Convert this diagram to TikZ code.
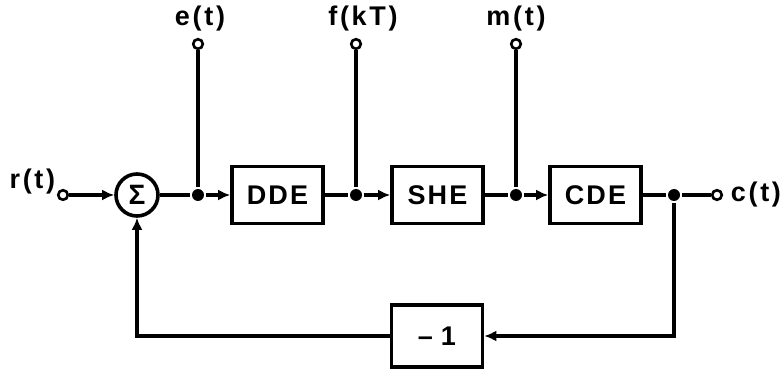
\documentclass[tikz,border=0pt]{standalone}
\usepackage{fontspec}
\setmainfont{Liberation Sans}
\newfontfamily\blockfont[LetterSpace=8]{Liberation Sans}
\newfontfamily\sigfont[LetterSpace=10]{Liberation Sans}
\usetikzlibrary{arrows.meta,positioning}

\begin{document}
\begin{tikzpicture}[
    x=0.5pt, y=-0.5pt,
    line width=1.8pt,
    block/.style={
      rectangle, draw, line width=1.8pt,
      minimum width=45.5pt, minimum height=28.5pt,
      font=\fontsize{13.5}{15}\selectfont\blockfont\bfseries
    },
    sumnode/.style={
      circle, draw, line width=1.8pt,
      minimum size=21pt, inner sep=0pt,
      font=\fontsize{14}{16}\selectfont\bfseries
    },
    port/.style={circle, draw, fill=white, line width=1.3pt,
      minimum size=4.8pt, inner sep=0pt},
    dot/.style={circle, fill, minimum size=6pt, inner sep=0pt},
    sig/.style={font=\fontsize{13.5}{15}\selectfont\sigfont\bfseries, inner sep=0pt},
    arr/.style={-{Latex[length=6pt,width=5.5pt]}}
  ]
    \useasboundingbox (0,0) rectangle (783,369);

    % forward path
    \node[port] (rin) at (63,195) {};
    \node[sig, anchor=east] (rlbl) at (57,182) {r(t)};
    \node[sumnode] (sum) at (137,195) {Σ};
    \node[dot] (je) at (198,195) {};
    \node[block] (dde) at (277.5,195) {DDE};
    \node[dot] (jf) at (356,195) {};
    \node[block] (she) at (437.5,195) {SHE};
    \node[dot] (jm) at (516,195) {};
    \node[block] (cde) at (595.5,195) {CDE};
    \node[dot] (jc) at (674,195) {};
    \node[port] (cout) at (717,195) {};
    \node[sig, right=3pt of cout] (clbl) {c(t)};

    % test points
    \node[port] (eout) at (198,44) {};
    \node[sig] (elbl) at (200,19) {e(t)};
    \node[port] (fout) at (356,44) {};
    \node[sig] (flbl) at (363,19) {f(kT)};
    \node[port] (mout) at (516,44) {};
    \node[sig] (mlbl) at (516,19) {m(t)};

    % feedback
    \node[block, minimum height=31pt] (neg) at (437,336) {\textendash\hspace{4pt}1};

    \draw[arr] (rin) -- (sum);
    \draw (sum) -- (je);
    \draw[arr] (je) -- (dde);
    \draw (dde) -- (jf);
    \draw[arr] (jf) -- (she);
    \draw (she) -- (jm);
    \draw[arr] (jm) -- (cde);
    \draw (cde) -- (jc) -- (cout);

    \draw (je) -- (eout);
    \draw (jf) -- (fout);
    \draw (jm) -- (mout);

    \draw[arr] (jc) |- (neg);
    \draw[arr] (neg) -| (sum);
\end{tikzpicture}
\end{document}
